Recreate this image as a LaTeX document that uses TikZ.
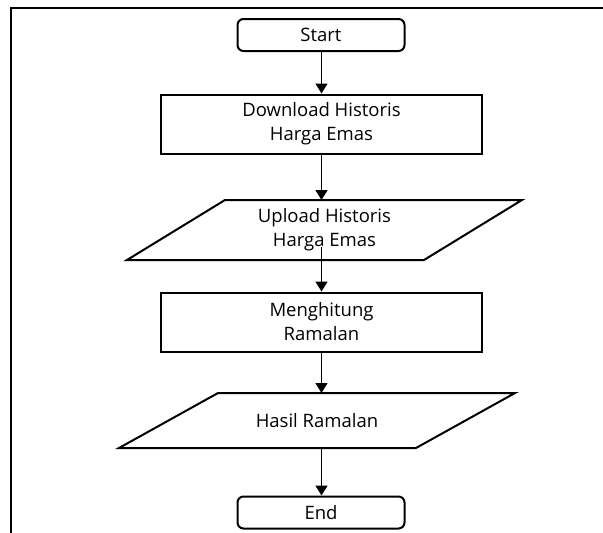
\documentclass[tikz,border=0pt]{standalone}
\usepackage{fontspec}
\setmainfont{Open Sans}
\usetikzlibrary{arrows.meta,calc}
\begin{document}
\begin{tikzpicture}[x=1pt,y=-1pt,
  txt/.style={align=center, inner sep=0pt, font=\fontsize{18.5}{24}\selectfont},
  term/.style={txt, draw, line width=2pt, rounded corners=6pt, minimum width=167pt, minimum height=32pt},
  proc/.style={txt, draw, line width=2pt, minimum width=321pt, minimum height=59pt},
  io/.style={txt, outer sep=0pt},
  iobord/.style={draw, line width=2pt, line join=miter},
  arr/.style={line width=1.4pt, -{Triangle[length=10pt,width=12pt]}},
  frame/.style={line width=2.5pt}]
\useasboundingbox (0,0) rectangle (603,533);
\coordinate (ftl) at (11,8);
\coordinate (ftr) at (603,8);
\coordinate (fbl) at (11,533);
\draw[frame] (ftr) -- (ftl) -- (fbl);

\node[term] (start) at (321,35) {Start};
\node[proc] (download) at (321.5,124) {Download Historis\\Harga Emas};
\node[io, minimum width=395pt, minimum height=60pt] (upload) at (324.5,230) {Upload Historis\\Harga Emas};
\draw[iobord] ($(upload.north west)+(98,0)$) -- (upload.north east) -- ($(upload.south east)+(-98,0)$) -- (upload.south west) -- cycle;
\node[proc] (hitung) at (321.5,322) {Menghitung\\Ramalan};
\node[io, minimum width=396pt, minimum height=55pt] (hasil) at (317,420.5) {Hasil Ramalan};
\draw[iobord] ($(hasil.north west)+(99,0)$) -- (hasil.north east) -- ($(hasil.south east)+(-99,0)$) -- (hasil.south west) -- cycle;
\node[term] (end) at (321,512.5) {End};

\draw[arr] (start.south -| download.north) -- (download.north);
\draw[arr] (download.south) -- (download.south |- upload.north);
\draw[arr] ([yshift=13pt]upload.south -| hitung.north) -- (hitung.north);
\draw[arr] (hitung.south) -- (hitung.south |- hasil.north);
\draw[arr] (hitung.south |- hasil.south) -- (hitung.south |- end.north);
\end{tikzpicture}
\end{document}
